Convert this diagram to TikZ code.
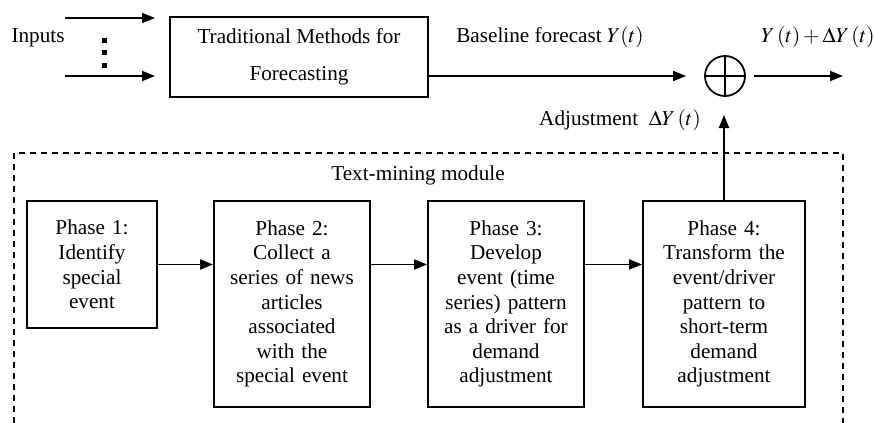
\documentclass[tikz,border=0pt]{standalone}
\usepackage{mathptmx}
\usepackage{fontspec}
\setmainfont{Liberation Serif}
\usetikzlibrary{arrows.meta}

\begin{document}
\begin{tikzpicture}[x=0.5pt,y=-0.5pt,
    font=\fontsize{10.6}{12.3}\selectfont,
    box/.style={draw,line width=0.9pt,align=center,inner sep=2pt},
    phase/.style={box,text width=#1,minimum height=103pt},
    flow/.style={line width=0.9pt,-{Triangle[length=6.5pt,width=5pt]}}]
    \useasboundingbox (0,0) rectangle (875,423);
    %\draw [black!20] (0,0) grid [step=50] (875,423);
    % top row
    \node [box,minimum width=129pt,minimum height=40pt] (trad) at (299,57)
        {Traditional Methods for\\[6pt]Forecasting};
    \node (inputs) at (38,38) {Inputs};
    \coordinate (ina) at (65,18);
    \coordinate (inb) at (65,76);
    \draw [flow] (ina) -- ++(90,0);
    \draw [flow] (inb) -- ++(90,0);
    \fill (102,38) rectangle (107,43);
    \fill (102,50) rectangle (107,55);
    \fill (102,63) rectangle (107,68);
    \node [circle,draw,line width=0.9pt,minimum size=20pt,inner sep=0pt] (sum) at (725,76) {};
    \draw [line width=0.9pt] (sum.north) -- (sum.south);
    \draw [line width=0.9pt] (sum.west) -- (sum.east);
    \draw [flow,shorten >=9pt] (trad.east |- sum) -- (sum.west);
    \coordinate (out) at (843,76);
    \draw [flow,shorten <=4pt] (sum.east) -- (out);
    \node (base) at (550,37) {Baseline forecast $Y(t)$};
    \node (res) at (818,37) {$Y\,(t)+\Delta Y\,(t)$};
    \node (adjlab) at (620,120) {Adjustment\ \ $\Delta Y\,(t)$};
    % text-mining module
    \draw [line width=0.7pt,dash pattern=on 3pt off 2.5pt] (14,423) -- (14,153) -- (843,153) -- (843,423);
    \node (tm) at (418,175) {Text-mining module};
    \node [phase=61pt,minimum height=63.5pt] (p1) at (92,264.5)
        {Phase 1:\\Identify\\special\\event};
    \node [phase=74pt] (p2) at (292,304)
        {Phase 2:\\Collect a\\series of news\\articles\\associated\\with the\\special event};
    \node [phase=74pt] (p3) at (506,304)
        {Phase 3:\\Develop\\event (time\\series) pattern\\as a driver for\\demand\\adjustment};
    \node [phase=77pt] (p4) at (724,304)
        {Phase 4:\\Transform the\\event/driver\\pattern to\\short-term\\demand\\adjustment};
    \draw [flow] (p1.east) -- (p2.west |- p1.east);
    \draw [flow] (p2.east |- p1.east) -- (p3.west |- p1.east);
    \draw [flow] (p3.east |- p1.east) -- (p4.west |- p1.east);
    \coordinate (adj) at (724,115);
    \draw [flow] (p4.north) -- (adj);
\end{tikzpicture}
\end{document}
